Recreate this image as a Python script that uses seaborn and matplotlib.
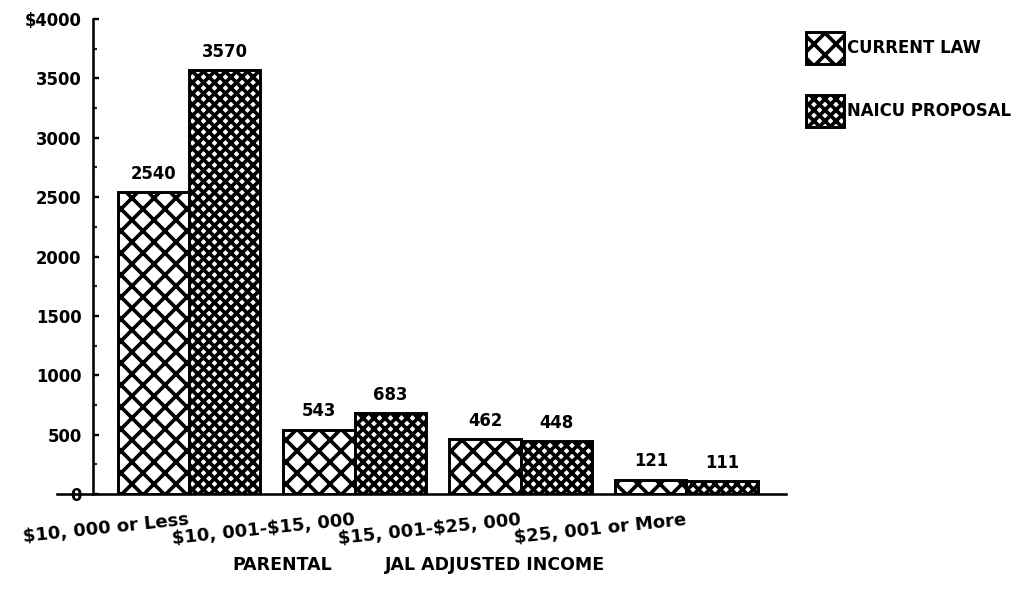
import matplotlib
matplotlib.use("Agg")
import matplotlib.pyplot as plt
import matplotlib.patches as mpatches
from matplotlib.ticker import MultipleLocator
import pandas as pd
import seaborn as sns

# Data
income = ["$10, 000 or Less", "$10, 001-$15, 000", "$15, 001-$25, 000", "$25, 001 or More"]
series = ["CURRENT LAW", "NAICU PROPOSAL"]
current_law = [2540, 543, 462, 121]
naicu_proposal = [3570, 683, 448, 111]
y_ticks = [0, 500, 1000, 1500, 2000, 2500, 3000, 3500, 4000]
y_tick_labels = ["0", "500", "1000", "1500", "2000", "2500", "3000", "3500", "$4000"]
hatches = ["xx", "xxxx"]

sns.set_theme(style="white")
plt.rcParams["font.family"] = ["DejaVu Sans"]
plt.rcParams["text.parse_math"] = False
plt.rcParams["text.color"] = "black"
plt.rcParams["axes.labelcolor"] = "black"
plt.rcParams["hatch.linewidth"] = 2.0
plt.rcParams["hatch.color"] = "black"

df = pd.DataFrame({
    "income": income * 2,
    "series": [series[0]] * 4 + [series[1]] * 4,
    "value": current_law + naicu_proposal,
})

DPI = 132
fig = plt.figure(figsize=(1020 / DPI, 601 / DPI), dpi=DPI)
ax = fig.add_axes([0.0559, 0.178, 0.7147, 0.7904])

sns.barplot(data=df, x="income", y="value", hue="series", order=income,
            hue_order=series, palette=["white", "white"], saturation=1,
            edgecolor="black", linewidth=1.6, width=0.86, gap=0,
            legend=False, ax=ax)

for cont, h in zip(ax.containers, hatches):
    for bar in cont:
        bar.set_hatch(h)
        bar.set_edgecolor("black")
    ax.bar_label(cont, fmt="%d", padding=5, fontsize=9, fontweight="bold",
                 color="black")

ax.set_xlim(-0.795, 3.60)
ax.set_ylim(0, 4000)

# Axes frame
for side in ("top", "right"):
    ax.spines[side].set_visible(False)
ax.spines["left"].set_position(("data", -0.58))
ax.spines["left"].set_bounds(0, 4000)
for side in ("left", "bottom"):
    ax.spines[side].set_linewidth(1.4)
    ax.spines[side].set_color("black")

ax.set_yticks(y_ticks)
ax.set_yticklabels(y_tick_labels, fontsize=9, fontweight="bold")
ax.yaxis.set_minor_locator(MultipleLocator(250))
ax.tick_params(axis="y", which="major", direction="in", length=3.5, width=1.3,
               pad=6, left=True, colors="black")
ax.tick_params(axis="y", which="minor", direction="in", length=2.2, width=1.2,
               left=True)

ax.set_xticks(range(len(income)))
ax.set_xticklabels(income, rotation=6, ha="right", va="center",
                   rotation_mode="anchor", fontsize=9.8, fontweight="bold")
ax.tick_params(axis="x", length=0, pad=14, colors="black")

ax.set_xlabel("")
ax.set_ylabel("")
ax.grid(False)

# Axis title (partly obscured in the source document)
fig.text(232 / 1020, 1 - 565 / 601, "PARENTAL", ha="left", va="center",
         fontsize=9.5, fontweight="bold")
fig.text(385 / 1020, 1 - 565 / 601, "JAL ADJUSTED INCOME", ha="left",
         va="center", fontsize=9.5, fontweight="bold")

# Legend
handles = [mpatches.Patch(facecolor="white", edgecolor="black", linewidth=1.6,
                          hatch=h) for h in hatches]
fig.legend(handles, series, loc="upper left",
           bbox_to_anchor=(806 / 1020, 1 - 32 / 601),
           bbox_transform=fig.transFigure, frameon=False,
           prop={"size": 9, "weight": "bold"},
           handlelength=2.3, handleheight=2.6, handletextpad=0.2,
           labelspacing=1.9, borderpad=0, borderaxespad=0)

fig.savefig("out.png", dpi=DPI, facecolor="white")
